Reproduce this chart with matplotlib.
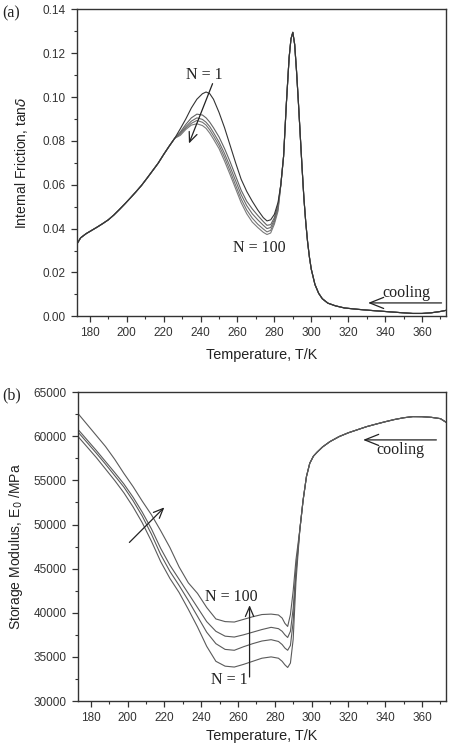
import matplotlib
matplotlib.use("Agg")
import matplotlib.pyplot as plt
import numpy as np
from matplotlib.ticker import MultipleLocator

# ---- panel (a): internal friction ----
# shared low-temperature part (all cycles overlap)
t_a_low = [173, 175, 178, 181, 184, 187, 190, 193, 196, 199, 202, 205, 208,
           211, 214, 217, 220, 223, 226]
f_a_low = [0.0330, 0.0358, 0.0377, 0.0392, 0.0407, 0.0423, 0.0440, 0.0462,
           0.0487, 0.0513, 0.0540, 0.0568, 0.0597, 0.0630, 0.0664, 0.0698,
           0.0738, 0.0776, 0.0812]

# middle part, one list per cycle (N = 1 ... N = 100)
t_a_mid = [229, 232, 235, 238, 241, 243, 245, 247, 250, 253, 256, 259, 262,
           265, 268, 271, 274, 276, 278, 280, 282]
f_a_n1 = [0.0855, 0.0900, 0.0950, 0.0990, 0.1015, 0.1023, 0.1015, 0.0990,
          0.0930, 0.0860, 0.0780, 0.0700, 0.0625, 0.0570, 0.0525, 0.0485,
          0.0450, 0.0435, 0.0440, 0.0465, 0.0520]
f_a_c2 = [0.0840, 0.0875, 0.0905, 0.0922, 0.0918, 0.0905, 0.0885, 0.0860,
          0.0818, 0.0765, 0.0705, 0.0640, 0.0575, 0.0525, 0.0490, 0.0460,
          0.0432, 0.0415, 0.0418, 0.0450, 0.0510]
f_a_c3 = [0.0835, 0.0865, 0.0890, 0.0905, 0.0898, 0.0885, 0.0865, 0.0838,
          0.0795, 0.0742, 0.0682, 0.0618, 0.0555, 0.0505, 0.0468, 0.0440,
          0.0415, 0.0400, 0.0405, 0.0440, 0.0500]
f_a_c4 = [0.0830, 0.0858, 0.0880, 0.0893, 0.0885, 0.0872, 0.0850, 0.0823,
          0.0780, 0.0725, 0.0663, 0.0598, 0.0535, 0.0485, 0.0448, 0.0420,
          0.0398, 0.0385, 0.0392, 0.0430, 0.0490]
f_a_c5 = [0.0825, 0.0852, 0.0872, 0.0878, 0.0870, 0.0857, 0.0835, 0.0808,
          0.0765, 0.0708, 0.0646, 0.0582, 0.0518, 0.0468, 0.0430, 0.0405,
          0.0383, 0.0373, 0.0380, 0.0420, 0.0480]

# shared high-temperature part (peak at ~290 K)
t_a_high = [283.5, 285, 286.5, 288, 289, 290, 291, 292, 293, 294, 295, 296,
            297, 298, 299, 300, 302, 304, 306, 309, 313, 318, 325, 332, 340,
            348, 355, 360, 365, 370, 373]
f_a_high = [0.0600, 0.0730, 0.0970, 0.1180, 0.1265, 0.1295, 0.1240, 0.1120,
            0.0980, 0.0830, 0.0680, 0.0540, 0.0430, 0.0340, 0.0270, 0.0215,
            0.0145, 0.0105, 0.0080, 0.0060, 0.0048, 0.0038, 0.0032, 0.0027,
            0.0022, 0.0017, 0.0013, 0.0013, 0.0016, 0.0022, 0.0027]

# ---- panel (b): storage modulus ----
t_b = [173, 178, 183, 188, 193, 198, 203, 208, 213, 218, 223, 228, 233, 238,
       243, 248, 253, 258, 263, 268, 273, 278, 282, 284, 285.5, 287, 288.5,
       290, 291.5]
e_b_n100 = [62600, 61350, 60100, 58850, 57400, 55800, 54300, 52650, 51100,
            49300, 47400, 45200, 43400, 42200, 40600, 39300, 39000, 38950,
            39250, 39550, 39800, 39850, 39750, 39400, 38800, 38450, 39800,
            42500, 46000]
e_b_c2 = [60800, 59600, 58400, 57150, 55900, 54600, 53100, 51400, 49500,
          47300, 45400, 43800, 42200, 40600, 39000, 37900, 37350, 37250,
          37500, 37800, 38100, 38350, 38200, 37900, 37500, 37200, 37900,
          40500, 45000]
e_b_c3 = [60500, 59300, 58100, 56850, 55550, 54250, 52700, 50950, 48900,
          46600, 44700, 43100, 41400, 39600, 37800, 36500, 35850, 35750,
          36150, 36500, 36800, 36950, 36750, 36400, 36000, 35750, 36300,
          39000, 44500]
e_b_n1 = [60000, 58800, 57600, 56300, 55000, 53600, 52000, 50200, 48100,
          45800, 43900, 42300, 40400, 38400, 36200, 34500, 33950, 33850,
          34150, 34500, 34850, 35000, 34850, 34500, 34100, 33800, 34300,
          37000, 43500]
t_b_high = [293.6, 295.4, 297.2, 299, 301, 303, 306, 310, 315, 320, 325, 330,
            335, 340, 345, 350, 355, 360, 365, 370, 373]
e_b_high = [49400, 52780, 55430, 56940, 57750, 58200, 58800, 59400, 59970,
            60400, 60750, 61100, 61380, 61650, 61900, 62100, 62230, 62220,
            62150, 62000, 61600]

tick_labels_a = ['0.00', '0.02', '0.04', '0.06', '0.08', '0.10', '0.12', '0.14']

plt.rcParams['font.family'] = ['Liberation Sans', 'DejaVu Sans']
plt.rcParams['mathtext.fontset'] = 'dejavusans'

fig = plt.figure(figsize=(4.5, 7.46), dpi=100)
ax1 = fig.add_axes([0.171, 0.576, 0.820, 0.4115])
ax2 = fig.add_axes([0.173, 0.0603, 0.818, 0.414])

spine_col = '#333333'
text_col = '#222222'
serif = ['Liberation Serif', 'DejaVu Serif']


def style_axis(ax, xpad):
    for s in ax.spines.values():
        s.set_color(spine_col)
        s.set_linewidth(1.0)
    ax.tick_params(which='both', direction='out', colors=spine_col,
                   labelsize=8.5, top=False, right=False)
    ax.tick_params(which='major', length=4.5, width=0.9)
    ax.tick_params(which='minor', length=2.5, width=0.8)
    ax.set_xlim(173, 373)
    ax.xaxis.set_major_locator(MultipleLocator(20))
    ax.xaxis.set_minor_locator(MultipleLocator(10))
    ax.set_xlabel('Temperature, T/K', fontsize=10.4, color=text_col,
                  labelpad=xpad)


# panel (a)
curves_a = [f_a_c5, f_a_c4, f_a_c3, f_a_c2, f_a_n1]
cols_a = ['#7a7a7a', '#727272', '#6a6a6a', '#626262', '#333333']
for vals, c in zip(curves_a, cols_a):
    t = t_a_low + t_a_mid + t_a_high
    f = f_a_low + vals + f_a_high
    ax1.plot(t, f, color=c, lw=0.8)

style_axis(ax1, 6)
ax1.set_ylim(0, 0.14)
ax1.yaxis.set_minor_locator(MultipleLocator(0.01))
ax1.set_yticks(np.arange(0, 0.141, 0.02))
ax1.set_yticklabels(tick_labels_a)
ax1.set_ylabel(r'Internal Friction, tan$\delta$', fontsize=10,
               color=text_col, labelpad=9)

arrow_kw = dict(arrowstyle='->,head_length=0.7,head_width=0.3',
                color=text_col, lw=0.9, shrinkA=0, shrinkB=0)
ax1.text(241.8, 0.110, 'N = 1', family=serif, fontsize=11.5, ha='center',
         va='center', color=text_col)
ax1.annotate('', xy=(233.7, 0.0788), xytext=(246.5, 0.1061), arrowprops=arrow_kw)
ax1.text(272, 0.0313, 'N = 100', family=serif, fontsize=11.5, ha='center',
         va='center', color=text_col)
ax1.text(351.8, 0.0108, 'cooling', family=serif, fontsize=11.5, ha='center',
         va='center', color=text_col)
ax1.annotate('', xy=(330.8, 0.0061), xytext=(370.6, 0.0061),
             arrowprops=dict(arrowstyle='->,head_length=1.0,head_width=0.4',
                             color=text_col, lw=0.9, shrinkA=0, shrinkB=0))
fig.text(0.005, 0.982, '(a)', family=serif, fontsize=11.5, color=text_col,
         va='center')

# panel (b)
curves_b = [e_b_n1, e_b_c3, e_b_c2, e_b_n100]
for vals in curves_b:
    ax2.plot(t_b + t_b_high, vals + e_b_high, color='#5a5a5a', lw=0.8)

style_axis(ax2, 3.5)
ax2.set_ylim(30000, 65000)
ax2.yaxis.set_major_locator(MultipleLocator(5000))
ax2.yaxis.set_minor_locator(MultipleLocator(2500))
ax2.set_ylabel(r'Storage Modulus, E$_0$ /MPa', fontsize=10,
               color=text_col, labelpad=6)

ax2.text(348.4, 58454, 'cooling', family=serif, fontsize=11.5, ha='center',
         va='center', color=text_col)
ax2.annotate('', xy=(328, 59590), xytext=(367.8, 59590),
             arrowprops=dict(arrowstyle='->,head_length=1.0,head_width=0.4',
                             color=text_col, lw=0.9, shrinkA=0, shrinkB=0))
ax2.annotate('', xy=(220, 51946), xytext=(201, 47973), arrowprops=arrow_kw)
ax2.text(256.5, 41806, 'N = 100', family=serif, fontsize=11.5, ha='center',
         va='center', color=text_col)
ax2.text(255.3, 32346, 'N = 1', family=serif, fontsize=11.5, ha='center',
         va='center', color=text_col)
ax2.annotate('', xy=(266.3, 40860), xytext=(266.3, 32724), arrowprops=arrow_kw)
fig.text(0.005, 0.47, '(b)', family=serif, fontsize=11.5, color=text_col,
         va='center')

fig.savefig('out.png', dpi=100)
